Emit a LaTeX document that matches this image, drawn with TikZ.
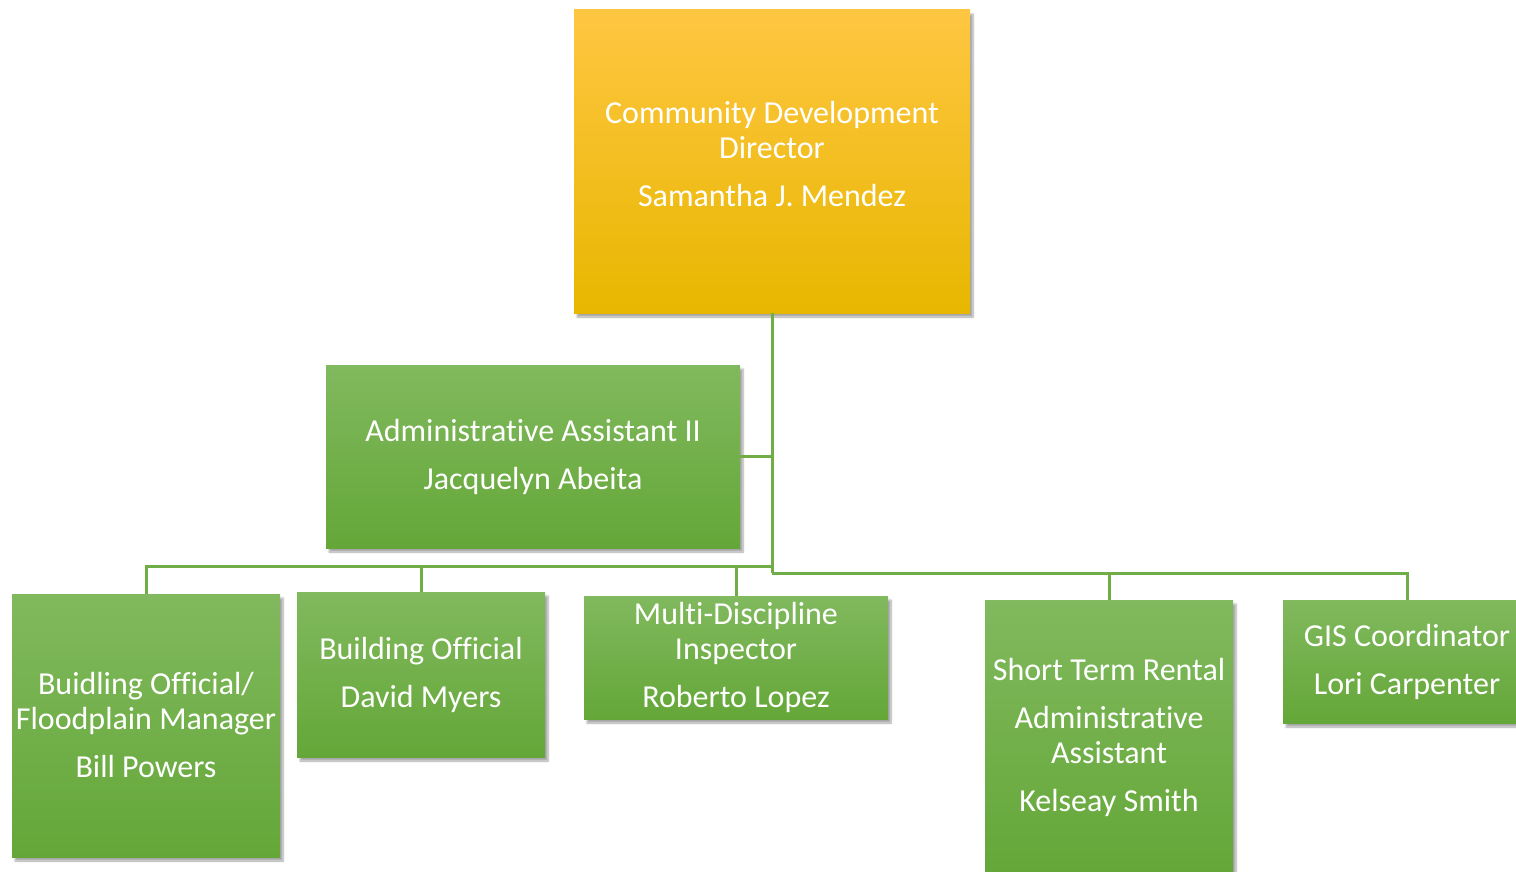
\documentclass[tikz,border=0pt]{standalone}
\usepackage{fontspec}
\setmainfont{Carlito}[Ligatures=NoCommon]
\usetikzlibrary{shadows.blur}

\definecolor{grnT}{RGB}{129,185,94}
\definecolor{grnM}{RGB}{112,175,70}
\definecolor{grnB}{RGB}{100,167,56}
\definecolor{yelT}{RGB}{255,198,66}
\definecolor{yelM}{RGB}{255,192,0}
\definecolor{yelB}{RGB}{231,183,0}
\definecolor{lnk}{RGB}{112,173,71}

\newcommand{\cdfont}{\fontsize{32}{35}\selectfont}

\tikzset{
  orgbox/.style={rectangle, inner sep=0pt, align=center, text=white, font=\cdfont,
    blur shadow={shadow xshift=3pt, shadow yshift=-4pt, shadow blur steps=8, shadow opacity=35}},
  grnbox/.style={orgbox, top color=grnT, middle color=grnM, bottom color=grnB},
  yelbox/.style={orgbox, top color=yelT, middle color=yelM, bottom color=yelB},
  link/.style={draw=lnk, line width=3pt},
}

\begin{document}
\begin{tikzpicture}[x=1pt, y=-1pt]
	\path[use as bounding box, clip] (0,0) rectangle (1516,872);

	\node[yelbox, minimum width=396pt, minimum height=303pt, text depth=16pt] (dir) at (772,161.5)
		{Community Development\\Director\\[13pt]Samantha J. Mendez};
	\node[grnbox, minimum width=414pt, minimum height=183pt] (adm) at (533,456.5)
		{Administrative Assistant II\\[13pt]Jacquelyn Abeita};
	\node[grnbox, minimum width=268pt, minimum height=263pt] (bill) at (146,725.5)
		{Buidling Official/\\Floodplain Manager\\[13pt]Bill Powers};
	\node[grnbox, minimum width=248pt, minimum height=165pt] (david) at (421,674.5)
		{Building Official\\[13pt]David Myers};
	\node[grnbox, minimum width=304pt, minimum height=123pt] (rob) at (736,657.5)
		{Multi-Discipline\\Inspector\\[13pt]Roberto Lopez};
	\node[grnbox, minimum width=248pt, minimum height=274pt] (kel) at (1109,737)
		{Short Term Rental\\[13pt]Administrative\\Assistant\\[13pt]Kelseay Smith};
	\node[grnbox, minimum width=248pt, minimum height=123pt] (lori) at (1407,661.5)
		{GIS Coordinator\\[13pt]Lori Carpenter};

	% bus lines
	\coordinate (busL) at (772,566);
	\coordinate (busR) at (772,573);

	\draw[link] (dir.south) -- (busR);
	\draw[link] (adm.east) -- (adm.east -| dir.south);
	\draw[link] (busL) -| (bill.north);
	\draw[link] (busL -| david.north) -- (david.north);
	\draw[link] (busL -| rob.north) -- (rob.north);
	\draw[link] (busR) -| (lori.north);
	\draw[link] (busR -| kel.north) -- (kel.north);
\end{tikzpicture}
\end{document}
